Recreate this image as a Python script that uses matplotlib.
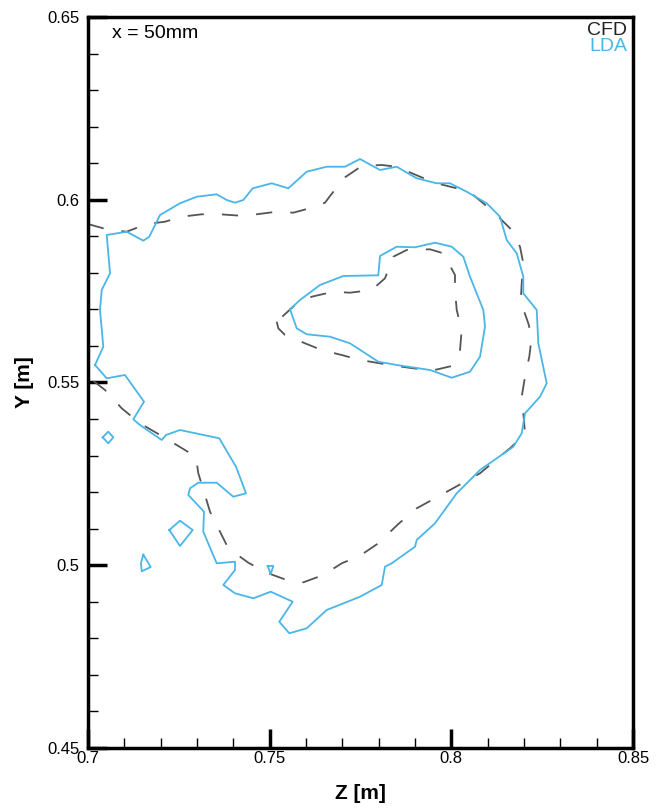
import matplotlib
matplotlib.use("Agg")
import matplotlib.pyplot as plt
from matplotlib.ticker import MultipleLocator

plt.rcParams['font.family'] = ['Liberation Sans', 'DejaVu Sans']

# LDA outer contour (closed)
lda_outer_z = [0.70193, 0.70421, 0.70330, 0.70377, 0.70606, 0.70515, 0.71065, 0.71522, 0.71687, 0.71982,
               0.72532, 0.72992, 0.73542, 0.73817, 0.74046, 0.74274, 0.74533, 0.75056, 0.75513, 0.76019,
               0.76570, 0.77073, 0.77486, 0.78037, 0.78496, 0.79047, 0.79597, 0.79963, 0.80423, 0.80974,
               0.81339, 0.81524, 0.81799, 0.81981, 0.81981, 0.82350, 0.82394, 0.82625, 0.82441, 0.82028,
               0.81937, 0.81706, 0.80789, 0.80148, 0.79550, 0.79047, 0.79000, 0.78359, 0.78174, 0.78084,
               0.77486, 0.76570, 0.76019, 0.75540, 0.75265, 0.75634, 0.75028, 0.74550, 0.74046, 0.73724,
               0.74046, 0.74046, 0.73542, 0.73173, 0.73193, 0.72761, 0.72807, 0.73036, 0.73542, 0.73999,
               0.74349, 0.74073, 0.73614, 0.72532, 0.72147, 0.72028, 0.71431, 0.71247, 0.71541, 0.71018,
               0.70515, 0.70193]
lda_outer_y = [0.55479, 0.55979, 0.56984, 0.57531, 0.57988, 0.59036, 0.59126, 0.58880, 0.58989, 0.59583,
               0.59903, 0.60083, 0.60149, 0.59993, 0.59919, 0.59993, 0.60313, 0.60450, 0.60313, 0.60767,
               0.60904, 0.60904, 0.61115, 0.60814, 0.60904, 0.60587, 0.60450, 0.60450, 0.60220, 0.59903,
               0.59536, 0.58899, 0.58535, 0.57895, 0.57440, 0.56984, 0.56072, 0.54978, 0.54611, 0.54157,
               0.53610, 0.53243, 0.52606, 0.51968, 0.51148, 0.50691, 0.50507, 0.50053, 0.49960, 0.49460,
               0.49139, 0.48776, 0.48275, 0.48138, 0.48455, 0.49003, 0.49276, 0.49096, 0.49232, 0.49460,
               0.49870, 0.50097, 0.50053, 0.50918, 0.51465, 0.51922, 0.52105, 0.52258, 0.52258, 0.51875,
               0.51968, 0.52696, 0.53473, 0.53700, 0.53564, 0.53427, 0.53837, 0.53993, 0.54475, 0.55205,
               0.55115, 0.55479]

# LDA inner contour (closed)
lda_inner_z = [0.75560, 0.75835, 0.76385, 0.77027, 0.77990, 0.78037, 0.78496, 0.79000, 0.79550, 0.80010,
               0.80329, 0.80514, 0.80880, 0.80927, 0.80789, 0.80514, 0.80010, 0.79413, 0.78496, 0.77990,
               0.77211, 0.76661, 0.76019, 0.75744, 0.75560]
lda_inner_y = [0.57003, 0.57257, 0.57668, 0.57914, 0.57933, 0.58461, 0.58715, 0.58699, 0.58825, 0.58715,
               0.58442, 0.57895, 0.56984, 0.56527, 0.55706, 0.55295, 0.55131, 0.55342, 0.55479, 0.55569,
               0.56072, 0.56253, 0.56319, 0.56483, 0.57003]

# LDA small islands
lda_isl1_z = [0.70404, 0.70558, 0.70696, 0.70558, 0.70404]
lda_isl1_y = [0.53501, 0.53654, 0.53501, 0.53336, 0.53501]
lda_isl2_z = [0.72238, 0.72532, 0.72882, 0.72532, 0.72238]
lda_isl2_y = [0.50964, 0.51219, 0.50964, 0.50527, 0.50964]
lda_isl3_z = [0.71522, 0.71726, 0.71478, 0.71459, 0.71522]
lda_isl3_y = [0.50288, 0.49952, 0.49834, 0.50062, 0.50288]
lda_isl4_z = [0.74946, 0.75100, 0.75028, 0.74946]
lda_isl4_y = [0.49979, 0.49979, 0.49758, 0.49979]

# CFD outer contour (open, both ends on Z = 0.7)
cfd_outer_z = [0.70000, 0.70515, 0.71065, 0.71616, 0.72119, 0.72579, 0.73129, 0.73633, 0.74183, 0.74643,
               0.75194, 0.75650, 0.76201, 0.76523, 0.76661, 0.77073, 0.77533, 0.78084, 0.78496, 0.79138,
               0.79597, 0.80148, 0.80605, 0.81155, 0.81615, 0.81890, 0.81981, 0.81937, 0.81909, 0.82118,
               0.82212, 0.82146, 0.82028, 0.81937, 0.81981, 0.82028, 0.81662, 0.80789, 0.79963, 0.79550,
               0.79047, 0.78540, 0.77990, 0.77486, 0.76983, 0.76476, 0.75926, 0.75469, 0.74918, 0.74412,
               0.73862, 0.73633, 0.73358, 0.73220, 0.73036, 0.72972, 0.72441, 0.71982, 0.71431, 0.70928,
               0.70468, 0.70000]
cfd_outer_y = [0.59336, 0.59191, 0.59126, 0.59336, 0.59399, 0.59536, 0.59602, 0.59602, 0.59564, 0.59602,
               0.59673, 0.59646, 0.59793, 0.59919, 0.60103, 0.60614, 0.60923, 0.60951, 0.60904, 0.60631,
               0.60450, 0.60313, 0.60130, 0.59673, 0.59219, 0.58715, 0.58261, 0.57714, 0.57211, 0.56620,
               0.56253, 0.55706, 0.55159, 0.54611, 0.54157, 0.53610, 0.53243, 0.52516, 0.52059, 0.51832,
               0.51558, 0.51128, 0.50600, 0.50261, 0.50053, 0.49733, 0.49533, 0.49596, 0.49796, 0.50070,
               0.50464, 0.50918, 0.51465, 0.51922, 0.52516, 0.52970, 0.53290, 0.53564, 0.53884, 0.54294,
               0.54795, 0.55159]

# CFD inner contour (closed)
cfd_inner_z = [0.75194, 0.75238, 0.75422, 0.75973, 0.76432, 0.76983, 0.77486, 0.78037, 0.78496, 0.78953,
               0.79460, 0.80010, 0.80239, 0.80285, 0.80148, 0.80101, 0.80101, 0.79779, 0.79413, 0.78771,
               0.78403, 0.78174, 0.77808, 0.77211, 0.76751, 0.76157, 0.75697, 0.75194]
cfd_inner_y = [0.56663, 0.56483, 0.56300, 0.56072, 0.55889, 0.55752, 0.55616, 0.55525, 0.55451, 0.55388,
               0.55323, 0.55451, 0.55889, 0.56436, 0.56984, 0.57531, 0.57941, 0.58535, 0.58644, 0.58625,
               0.58442, 0.57851, 0.57531, 0.57457, 0.57484, 0.57347, 0.57120, 0.56663]

x_ticks = [0.7, 0.75, 0.8, 0.85]
x_tick_labels = ['0.7', '0.75', '0.8', '0.85']
y_ticks = [0.45, 0.5, 0.55, 0.6, 0.65]
y_tick_labels = ['0.45', '0.5', '0.55', '0.6', '0.65']

LDA_COLOR = '#4ab6e8'
CFD_COLOR = '#555555'

fig = plt.figure(figsize=(6.57, 8.11), dpi=100)
ax = fig.add_axes([88 / 657, 1 - 748 / 811, 545 / 657, 731 / 811])

lw = 1.3
for z, y in [(cfd_outer_z, cfd_outer_y), (cfd_inner_z, cfd_inner_y)]:
    ln, = ax.plot(z, y, color=CFD_COLOR, lw=lw)
    ln.set_dashes((9, 10))

for z, y in [(lda_outer_z, lda_outer_y), (lda_inner_z, lda_inner_y),
             (lda_isl1_z, lda_isl1_y), (lda_isl2_z, lda_isl2_y),
             (lda_isl3_z, lda_isl3_y), (lda_isl4_z, lda_isl4_y)]:
    ax.plot(z, y, color=LDA_COLOR, lw=lw)

ax.set_xlim(0.7, 0.85)
ax.set_ylim(0.45, 0.65)
ax.set_xticks(x_ticks)
ax.set_xticklabels(x_tick_labels)
ax.set_yticks(y_ticks)
ax.set_yticklabels(y_tick_labels)
ax.xaxis.set_minor_locator(MultipleLocator(0.01))
ax.yaxis.set_minor_locator(MultipleLocator(0.01))
ax.tick_params(which='major', direction='in', length=14, width=2.5, labelsize=12,
               top=False, right=False)
ax.tick_params(axis='x', which='major', pad=2)
ax.tick_params(axis='y', which='major', pad=6)
ax.tick_params(which='minor', direction='in', length=7, width=1.0, top=False, right=False)
for s in ax.spines.values():
    s.set_linewidth(2.5)

ax.set_xlabel('Z [m]', fontsize=15, fontweight='bold', labelpad=13)
ax.set_ylabel('Y [m]', fontsize=15, fontweight='bold', labelpad=10)

ax.text(0.044, 0.978, 'x = 50mm', transform=ax.transAxes, fontsize=14, ha='left', va='center')
ax.text(0.989, 0.981, 'CFD', transform=ax.transAxes, fontsize=14, ha='right', va='center', color='#222222')
ax.text(0.989, 0.959, 'LDA', transform=ax.transAxes, fontsize=14, ha='right', va='center', color=LDA_COLOR)

fig.savefig('out.png', dpi=100)
